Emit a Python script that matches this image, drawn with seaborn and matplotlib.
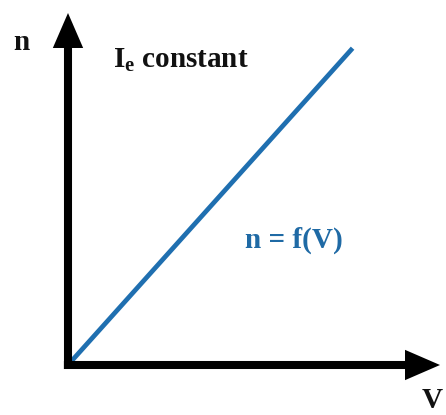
import matplotlib
matplotlib.use('Agg')
import matplotlib.pyplot as plt
import seaborn as sns

# Schematic data: n rises linearly with V at constant Ie
volts = [0.0, 7.65]
speed = [0.0, 9.0]

sns.set_style("white")
plt.rcParams['font.family'] = ['Liberation Serif', 'DejaVu Serif']
plt.rcParams['mathtext.fontset'] = 'custom'
plt.rcParams['mathtext.rm'] = 'Liberation Serif:bold'
plt.rcParams['mathtext.bf'] = 'Liberation Serif:bold'

fig = plt.figure(figsize=(4.46, 4.15), dpi=100)
# axes origin sits at the corner of the two arrows
ax = fig.add_axes([68 / 446, 50 / 415, 372 / 446, 352 / 415])

sns.lineplot(x=volts, y=speed, ax=ax, color='#1f6fb0', linewidth=3.4,
             solid_capstyle='butt')
ax.set_xlim(0, 10)
ax.set_ylim(0, 10)
ax.set_xticks([])
ax.set_yticks([])
sns.despine(ax=ax, left=True, bottom=True)

arrow = dict(arrowstyle='-|>,head_length=15,head_width=6.5', lw=5.8,
             color='black', mutation_scale=1, shrinkA=0, shrinkB=0,
             capstyle='butt', joinstyle='miter')
ax.annotate('', xy=(1, 0), xytext=(-0.011, 0), xycoords='axes fraction',
            arrowprops=arrow, annotation_clip=False)
ax.annotate('', xy=(0, 1), xytext=(0, -0.011), xycoords='axes fraction',
            arrowprops=arrow, annotation_clip=False)

ink = '#111111'
ax.text(-0.124, 0.915, 'n', transform=ax.transAxes, fontsize=21,
        fontweight='bold', color=ink, ha='center', va='center')
ax.text(0.121, 0.866, r'$\mathbf{I_e}$ constant', transform=ax.transAxes,
        fontsize=21, fontweight='bold', color=ink, ha='left', va='center')
ax.text(0.476, 0.355, 'n = f(V)', transform=ax.transAxes, fontsize=21,
        fontweight='bold', color='#1f6aa5', ha='left', va='center')
ax.text(0.98, -0.1, 'V', transform=ax.transAxes, fontsize=21,
        fontweight='bold', color=ink, ha='center', va='center')

fig.savefig('out.png', dpi=100)
